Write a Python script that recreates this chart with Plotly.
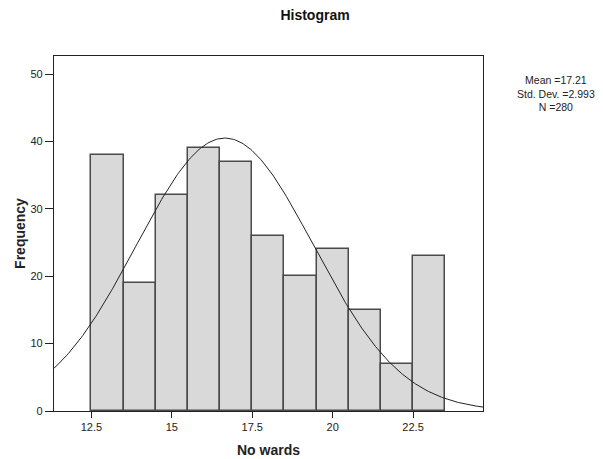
import numpy as np
import plotly.graph_objects as go

# Histogram bins (centres, width 1) and counts
bin_centers = [13, 14, 15, 16, 17, 18, 19, 20, 21, 22, 23]
counts = [38, 19, 32, 39, 37, 26, 20, 24, 15, 7, 23]
bin_width = 1.0

# Normal curve as drawn in the picture
curve_mean = 16.65
curve_sd = 2.757
n_total = 280

stats_lines = ["Mean =17.21", "Std. Dev. =2.993", "N =280"]
x_ticks = [12.5, 15, 17.5, 20, 22.5]
y_ticks = [0, 10, 20, 30, 40, 50]

x_range = [11.336, 24.675]
y_range = [0, 52.7]

xs = np.linspace(x_range[0], x_range[1], 300)
ys = n_total * bin_width / (curve_sd * np.sqrt(2 * np.pi)) * np.exp(-((xs - curve_mean) ** 2) / (2 * curve_sd ** 2))

fig = go.Figure()
fig.add_trace(go.Bar(
    x=bin_centers, y=counts, width=[bin_width] * len(bin_centers),
    marker=dict(color="#d9d9d9", line=dict(color="#4a4a4a", width=1.5)),
    hoverinfo="skip", showlegend=False,
))
fig.add_trace(go.Scatter(
    x=xs, y=ys, mode="lines", line=dict(color="#222222", width=1),
    hoverinfo="skip", showlegend=False,
))

font_family = "Liberation Sans, Arial, sans-serif"
H = 451  # effective rendered height (page has an 8px body margin)
fig.update_layout(
    width=603, height=459,
    margin=dict(l=40, r=128, t=48, b=50),
    paper_bgcolor="white", plot_bgcolor="white",
    bargap=0,
    font=dict(family=font_family, color="#222222", size=11),
    title=dict(text="<b>Histogram</b>", x=307 / 603, xanchor="center",
               y=1 - 7 / H, yanchor="middle",
               font=dict(size=14, family=font_family, color="#111111")),
    xaxis=dict(range=x_range, tickvals=x_ticks, ticktext=[str(t) for t in x_ticks],
               ticks="outside", ticklen=6, tickcolor="#222222", tickwidth=1,
               showgrid=False, zeroline=False,
               showline=True, linecolor="#222222", linewidth=1.2, mirror=True,
               title=dict(text="<b>No wards</b>", font=dict(size=14), standoff=12),
               tickfont=dict(size=11)),
    yaxis=dict(range=y_range, tickvals=y_ticks,
               ticks="outside", ticklen=8, tickcolor="#222222", tickwidth=1,
               showgrid=False, zeroline=False,
               showline=True, linecolor="#222222", linewidth=1.2, mirror=True,
               title=dict(text="<b>Frequency</b>", font=dict(size=14), standoff=1),
               tickfont=dict(size=11)),
)

fig.add_annotation(
    text="<br>".join(stats_lines), xref="paper", yref="paper",
    x=(557 - 48) / 435, y=(409 - 93) / 353,
    xanchor="center", yanchor="middle", showarrow=False, align="center",
    font=dict(size=10.5, family=font_family, color="#222222"),
)

fig.write_html("out.html")
